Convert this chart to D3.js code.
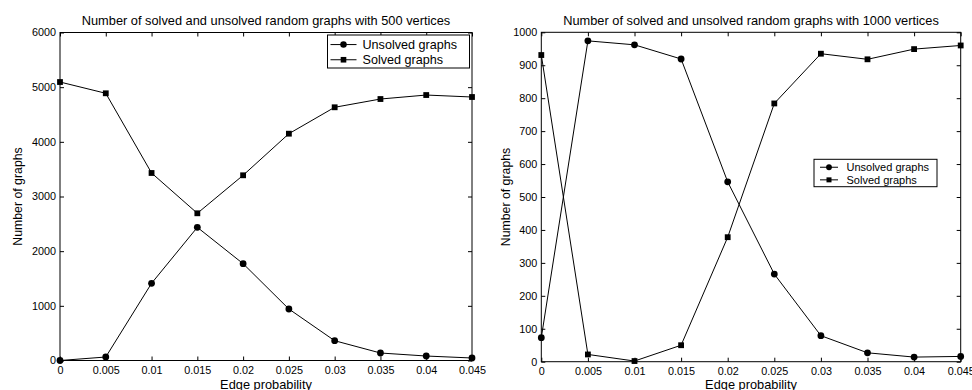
<!DOCTYPE html>
<html>
<head>
<meta charset="utf-8">
<script src="https://cdn.jsdelivr.net/npm/d3@7"></script>
<style>
  html, body { margin: 0; padding: 0; background: #fff; }
  svg { display: block; font-family: "Liberation Sans", Arial, Helvetica, sans-serif; }
</style>
</head>
<body>
<svg id="chart" width="972" height="390"></svg>
<script>
// ---------- data ----------
const edgeProb = [0, 0.005, 0.01, 0.015, 0.02, 0.025, 0.03, 0.035, 0.04, 0.045];
const xTickLabels = ["0", "0.005", "0.01", "0.015", "0.02", "0.025", "0.03", "0.035", "0.04", "0.045"];

const unsolved500 = [0, 64, 1412, 2436, 1771, 942, 362, 137, 82, 46];
const solved500   = [5094, 4888, 3430, 2693, 3388, 4149, 4632, 4783, 4856, 4820];
const yTicks500   = [0, 1000, 2000, 3000, 4000, 5000, 6000];

const unsolved1000 = [73, 974, 962, 919, 546, 266, 79, 27, 14, 16];
const solved1000   = [931, 22, 2, 50, 378, 784, 935, 918, 949, 960];
const yTicks1000   = [0, 100, 200, 300, 400, 500, 600, 700, 800, 900, 1000];

const seriesNames = ["Unsolved graphs", "Solved graphs"];

// ---------- drawing ----------
const svg = d3.select("#chart");

function drawPanel(opt) {
  const x = d3.scaleLinear().domain([0, 0.045]).range([opt.x0, opt.x1]);
  const y = d3.scaleLinear().domain([0, opt.yMax]).range([opt.y1, opt.y0]);
  const g = svg.append("g");
  const tickLen = 4;

  // frame
  g.append("rect")
    .attr("x", opt.x0).attr("y", opt.y0)
    .attr("width", opt.x1 - opt.x0).attr("height", opt.y1 - opt.y0)
    .attr("fill", "none").attr("stroke", "#000").attr("stroke-width", 1);

  // bottom axis (ticks inward) and top ticks
  const xb = d3.axisBottom(x).tickValues(edgeProb)
    .tickFormat((d, i) => xTickLabels[i]).tickSizeInner(-tickLen).tickSizeOuter(0).tickPadding(6);
  const gx = g.append("g").attr("transform", `translate(0,${opt.y1})`).call(xb);
  gx.select(".domain").remove();
  gx.selectAll("text").attr("font-size", 10.8).attr("fill", "#000")
    .attr("font-family", "Liberation Sans, Arial, sans-serif");
  gx.selectAll("line").attr("stroke", "#000");

  const xt = d3.axisTop(x).tickValues(edgeProb).tickFormat("").tickSizeInner(-tickLen).tickSizeOuter(0);
  const gxt = g.append("g").attr("transform", `translate(0,${opt.y0})`).call(xt);
  gxt.select(".domain").remove();
  gxt.selectAll("line").attr("stroke", "#000");

  // left axis and right ticks
  const yl = d3.axisLeft(y).tickValues(opt.yTicks).tickFormat(d3.format("d"))
    .tickSizeInner(-tickLen).tickSizeOuter(0).tickPadding(4);
  const gy = g.append("g").attr("transform", `translate(${opt.x0},0)`).call(yl);
  gy.select(".domain").remove();
  gy.selectAll("text").attr("font-size", 10.8).attr("fill", "#000")
    .attr("font-family", "Liberation Sans, Arial, sans-serif");
  gy.selectAll("line").attr("stroke", "#000");

  const yr = d3.axisRight(y).tickValues(opt.yTicks).tickFormat("").tickSizeInner(-tickLen).tickSizeOuter(0);
  const gyr = g.append("g").attr("transform", `translate(${opt.x1},0)`).call(yr);
  gyr.select(".domain").remove();
  gyr.selectAll("line").attr("stroke", "#000");

  // titles / labels
  g.append("text").attr("x", (opt.x0 + opt.x1) / 2).attr("y", 24.5)
    .attr("text-anchor", "middle").attr("font-size", 12.8).text(opt.title);
  g.append("text").attr("x", (opt.x0 + opt.x1) / 2).attr("y", 388.5)
    .attr("text-anchor", "middle").attr("font-size", 12.8).text("Edge probability");
  g.append("text")
    .attr("transform", `translate(${opt.yLabelX},${(opt.y0 + opt.y1) / 2}) rotate(-90)`)
    .attr("text-anchor", "middle").attr("font-size", 12.3).text("Number of graphs");

  // series
  const line = d3.line().x((d, i) => x(edgeProb[i])).y(d => y(d));
  const series = [
    { vals: opt.unsolved, shape: "circle" },
    { vals: opt.solved, shape: "square" }
  ];
  series.forEach(s => {
    g.append("path").datum(s.vals).attr("d", line)
      .attr("fill", "none").attr("stroke", "#000").attr("stroke-width", 1);
    if (s.shape === "circle") {
      g.selectAll(null).data(s.vals).enter().append("circle")
        .attr("cx", (d, i) => x(edgeProb[i])).attr("cy", d => y(d)).attr("r", 3.4).attr("fill", "#000");
    } else {
      g.selectAll(null).data(s.vals).enter().append("rect")
        .attr("x", (d, i) => x(edgeProb[i]) - 2.9).attr("y", d => y(d) - 2.9)
        .attr("width", 5.8).attr("height", 5.8).attr("fill", "#000");
    }
  });

  // legend
  const L = opt.legend;
  const lg = g.append("g");
  lg.append("rect").attr("x", L.x).attr("y", L.y).attr("width", L.w).attr("height", L.h)
    .attr("fill", "#fff").attr("stroke", "#000").attr("stroke-width", 1);
  seriesNames.forEach((name, i) => {
    const cy = L.y + L.h * (i === 0 ? 0.29 : 0.75);
    lg.append("line").attr("x1", L.x + L.lx0).attr("x2", L.x + L.lx1)
      .attr("y1", cy).attr("y2", cy).attr("stroke", "#000").attr("stroke-width", 1);
    const mx = L.x + (L.lx0 + L.lx1) / 2;
    if (i === 0) {
      lg.append("circle").attr("cx", mx).attr("cy", cy).attr("r", L.ms * 0.58).attr("fill", "#000");
    } else {
      lg.append("rect").attr("x", mx - L.ms / 2).attr("y", cy - L.ms / 2)
        .attr("width", L.ms).attr("height", L.ms).attr("fill", "#000");
    }
    lg.append("text").attr("x", L.x + L.tx).attr("y", cy + L.fs * 0.36)
      .attr("font-size", L.fs).text(name);
  });
}

drawPanel({
  x0: 60, x1: 472, y0: 32.5, y1: 360.5, yMax: 6000, yTicks: yTicks500,
  unsolved: unsolved500, solved: solved500, yLabelX: 21.5,
  title: "Number of solved and unsolved random graphs with 500 vertices",
  legend: { x: 327.5, y: 35, w: 142, h: 33, lx0: 3, lx1: 29, tx: 35, fs: 12.6, ms: 5.6 }
});

drawPanel({
  x0: 541.3, x1: 960.7, y0: 32.3, y1: 361.7, yMax: 1000, yTicks: yTicks1000,
  unsolved: unsolved1000, solved: solved1000, yLabelX: 510,
  title: "Number of solved and unsolved random graphs with 1000 vertices",
  legend: { x: 814, y: 159.3, w: 123, h: 27.4, lx0: 6, lx1: 24, tx: 32.5, fs: 11, ms: 5 }
});
</script>
</body>
</html>
